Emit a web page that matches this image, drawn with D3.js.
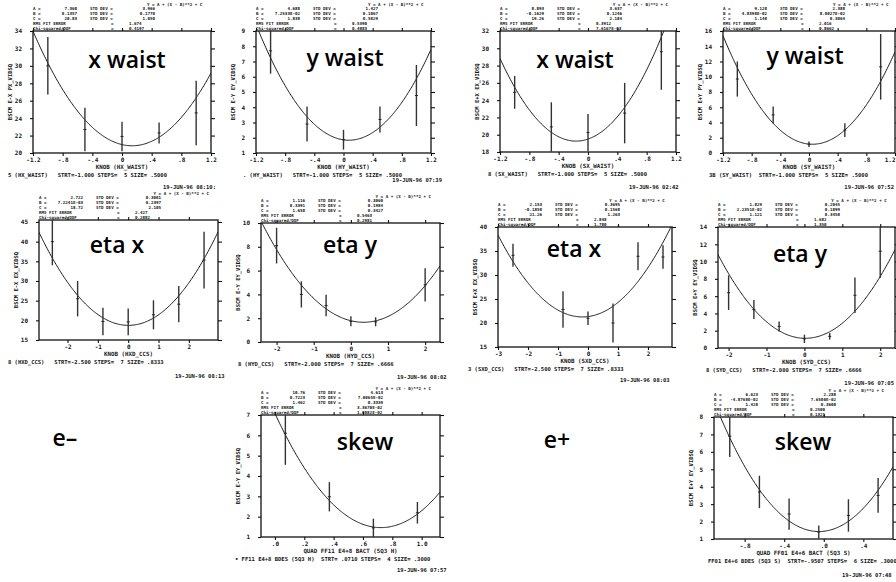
<!DOCTYPE html>
<html>
<head>
<meta charset="utf-8">
<script src="https://cdn.jsdelivr.net/npm/d3@7"></script>
<style>
  html, body { margin: 0; padding: 0; background: #fff; }
  svg { display: block; }
  .mono { font-family: "DejaVu Sans Mono", "Liberation Mono", monospace; font-weight: bold; fill: #151515; }
  .big { font-family: "Open Sans", "Noto Sans", sans-serif; font-weight: 600; fill: #000; }
</style>
</head>
<body>
<svg id="chart" width="896" height="582"></svg>
<script>
// ---- knob scans: knob setting, measured beam size squared, error ----
const hxWaistKnob = [-1, -0.5, 0, 0.5, 1];
const hxWaistSize = [30.0, 22.7, 21.9, 22.3, 24.6];
const hxWaistErr  = [3.3, 2.5, 1.7, 1.2, 3.7];

const hyWaistKnob = [-1, -0.5, 0, 0.5, 1];
const hyWaistSize = [7.7, 2.9, 1.87, 3.2, 4.77];
const hyWaistErr  = [1.5, 1.15, 0.65, 0.85, 2.0];

const sxWaistKnob = [-1, -0.5, 0, 0.5, 1];
const sxWaistSize = [24.9, 20.9, 20.25, 22.5, 29.6];
const sxWaistErr  = [1.9, 2.85, 2.15, 3.5, 4.4];

const syWaistKnob = [-1, -0.5, 0, 0.5, 1];
const syWaistSize = [9.7, 5.0, 1.15, 3.0, 11.3];
const syWaistErr  = [2.3, 1.1, 0.35, 0.9, 4.3];

const hxdKnob = [-2.5, -1.667, -0.833, 0, 0.833, 1.667, 2.5];
const hxdSize = [40.0, 25.5, 19.7, 19.6, 21.4, 24.1, 35.3];
const hxdErr  = [6.0, 4.5, 3.5, 3.4, 3.7, 4.6, 7.2];

const hydKnob = [-2, -1.333, -0.667, 0, 0.667, 2];
const hydSize = [8.1, 4.0, 3.07, 1.74, 1.7, 4.8];
const hydErr  = [1.5, 1.1, 0.9, 0.42, 0.38, 1.4];

const sxdKnob = [-2.5, -0.833, 0, 0.833, 1.667, 2.5];
const sxdSize = [34.1, 22.8, 21.0, 20.0, 33.9, 33.75];
const sxdErr  = [2.4, 3.8, 1.4, 4.05, 2.9, 2.45];

const sydKnob = [-2, -1.333, -0.667, 0, 0.667, 1.333, 2];
const sydSize = [6.4, 4.45, 2.5, 1.06, 1.35, 6.1, 11.2];
const sydErr  = [2.0, 1.1, 0.58, 0.48, 0.38, 2.05, 3.1];

const skewEmKnob = [0.071, 0.371, 0.671, 0.971];
const skewEmSize = [6.1, 2.98, 1.45, 2.19];
const skewEmErr  = [1.55, 0.72, 0.45, 0.53];

const skewEpKnob = [-0.9507, -0.6507, -0.3507, -0.0507, 0.2493, 0.5493];
const skewEpSize = [6.9, 3.7, 2.43, 1.4, 2.35, 3.5];
const skewEpErr  = [1.2, 0.93, 0.9, 0.38, 0.93, 1.0];

// ---- parabola fits  Y = A*(X - B)**2 + C  (one entry per panel) ----
const fitA = [7.368, 4.688, 8.893, 9.128, 2.722, 1.116, 2.153, 1.829, 10.76, 6.623];
const fitB = [0.1357, 7.2533e-2, -0.1629, 4.8398e-2, 7.2241e-3, 0.3391, -0.1858, 2.2351e-2, 0.7223, -4.8768e-2];
const fitC = [20.83, 1.838, 19.26, 1.148, 18.72, 1.658, 21.26, 1.121, 1.462, 1.428];
const fitALabel = ["7.368", "4.688", "8.893", "9.128", "2.722", "1.116", "2.153", "1.829", "10.76", "6.623"];
const fitBLabel = ["0.1357", "7.2533E-02", "-0.1629", "4.8398E-02", "7.2241E-03", "0.3391", "-0.1858", "2.2351E-02", "0.7223", "-4.8768E-02"];
const fitCLabel = ["20.83", "1.838", "19.26", "1.148", "18.72", "1.658", "21.26", "1.121", "1.462", "1.428"];
const sdA = ["3.966", "1.427", "3.637", "2.388", "0.3001", "0.3060", "0.3695", "0.2045", "4.613", "2.288"];
const sdB = ["0.1770", "0.1067", "0.1246", "8.0027E-02", "0.2397", "0.1984", "0.1568", "0.1899", "7.0065E-02", "7.6500E-02"];
const sdC = ["1.050", "0.5829", "2.184", "0.3064", "2.105", "0.3427", "1.263", "0.3458", "0.3339", "0.3600"];
const rmsErr = ["1.674", "0.5390", "0.3912", "2.016", "2.427", "0.5463", "2.848", "1.682", "3.3670E-02", "0.2500"];
const chiDof = ["0.4197", "0.4883", "7.6167E-03", "0.8662", "0.2882", "0.2981", "1.780", "1.350", "1.0082E-02", "0.1321"];

// ---- axis ticks ----
const waistTicks = [-1.2, -0.8, -0.4, 0, 0.4, 0.8, 1.2];
const waistTickLabels = ["-1.2", "-.8", "-.4", "0", ".4", ".8", "1.2"];
const ccsTicks = [-2, -1, 0, 1, 2];
const ccsTickLabels = ["-2", "-1", "0", "1", "2"];
const sxdTicks = [-3, -2, -1, 0, 1, 2];
const sxdTickLabels = ["-3", "-2", "-1", "0", "1", "2"];
const skewEmTicks = [0, 0.2, 0.4, 0.6, 0.8, 1.0];
const skewEmTickLabels = [".0", ".2", ".4", ".6", ".8", "1.0"];
const skewEpTicks = [-0.8, -0.4, 0, 0.4];
const skewEpTickLabels = ["-.8", "-.4", ".0", ".4"];

const yTicks1 = [20, 22, 24, 26, 28, 30, 32, 34];
const yTicks2 = [1, 2, 3, 4, 5, 6, 7, 8, 9];
const yTicks3 = [18, 20, 22, 24, 26, 28, 30, 32];
const yTicks4 = [0, 2, 4, 6, 8, 10, 12, 14, 16];
const yTicks5 = [15, 20, 25, 30, 35, 40, 45];
const yTicks6 = [0, 2, 4, 6, 8, 10];
const yTicks7 = [15, 20, 25, 30, 35, 40];
const yTicks8 = [0, 2, 4, 6, 8, 10, 12, 14];
const yTicks9 = [1, 2, 3, 4, 5, 6, 7];
const yTicks10 = [1, 2, 3, 4, 5, 6, 7, 8];

// ---- panel texts ----
const panelNames = ["x waist", "y waist", "x waist", "y waist", "eta x", "eta y", "eta x", "eta y", "skew", "skew"];
const yTitles = ["BSCM E-X PX_VIDSQ", "BSCM E-Y EY_VIDSQ", "BSCM E+X EX_VIDSQ", "BSCM E+Y PY_VIDSQ",
                 "BSCM E-X EX_VIDSQ", "BSCM E-Y EY_VIDSQ", "BSCM E+X EX_VIDSQ", "BSCM E+Y EY_VIDSQ",
                 "BSCM E-Y EY_VIDSQ", "BSCM E+Y EY_VIDSQ"];
const xTitles = ["KNOB (HX_WAIST)", "KNOB (HY_WAIST)", "KNOB (SX_WAIST)", "KNOB (SY_WAIST)",
                 "KNOB (HXD_CCS)", "KNOB (HYD_CCS)", "KNOB (SXD_CCS)", "KNOB (SYD_CCS)",
                 "QUAD FF11 E4+8 BACT (5Q3 H)", "QUAD FF01 E4+6 BACT (5Q3 S)"];
const scanLines = ["5 (HX_WAIST)   STRT=-1.000 STEPS=  5 SIZE= .5000",
                   ". (HY_WAIST)   STRT=-1.000 STEPS=  5 SIZE= .5000",
                   "8 (SX_WAIST)   STRT=-1.000 STEPS=  5 SIZE= .5000",
                   "3B (SY_WAIST)  STRT=-1.000 STEPS=  5 SIZE= .5000",
                   "8 (HXD_CCS)   STRT=-2.500 STEPS=  7 SIZE= .8333",
                   "8 (HYD_CCS)   STRT=-2.000 STEPS=  7 SIZE= .6666",
                   "3 (SXD_CCS)   STRT=-2.500 STEPS=  7 SIZE= .8333",
                   "8 (SYD_CCS)   STRT=-2.000 STEPS=  7 SIZE= .6666",
                   "\u2022 FF11 E4+8 BDES (5Q3 H)  STRT= .0710 STEPS=  4 SIZE= .3000",
                   "FF01 E4+6 BDES (5Q3 S)  STRT=-.9507 STEPS=  6 SIZE= .3000"];
const dateStamps = ["19-JUN-96 08:10:", "19-JUN-96 07:39", "19-JUN-96 02:42", "19-JUN-96 07:52",
                    "19-JUN-96 08:13", "19-JUN-96 08:02", "19-JUN-96 08:03", "19-JUN-96 07:05",
                    "19-JUN-96 07:57", "19-JUN-96 07:48"];
const beamLabels = ["e\u2013", "e+"];

// ---- layout (pixel geometry of each panel) ----
const layout = [
  { L: 33,  R: 211, T: 31,  B: 153, xd: [-1.2, 1.2],     yd: [20, 34],   lx: 127, ly: 68,  fx: 8,   dx: 216, dy: 189, da: "end" },
  { L: 256, R: 431, T: 31,  B: 153, xd: [-1.2, 1.2],     yd: [1, 9],     lx: 345, ly: 66,  fx: 243, dx: 442, dy: 182, da: "end" },
  { L: 500, R: 676, T: 31,  B: 152, xd: [-1.2, 1.2],     yd: [18, 32],   lx: 575, ly: 68,  fx: 488, dx: 629, dy: 189, da: "start" },
  { L: 723, R: 895, T: 31,  B: 153, xd: [-1.2, 1.2],     yd: [0, 16],    lx: 805, ly: 64,  fx: 709, dx: 894, dy: 189, da: "end" },
  { L: 39,  R: 218, T: 220, B: 340, xd: [-2.94, 2.96],   yd: [15, 45.5], lx: 117, ly: 253, fx: 8,   dx: 175, dy: 378, da: "start" },
  { L: 261, R: 440, T: 223, B: 342, xd: [-2.42, 2.4],    yd: [0, 10],    lx: 350, ly: 253, fx: 238, dx: 397, dy: 379, da: "start" },
  { L: 498, R: 672, T: 227, B: 347, xd: [-3, 2.8],       yd: [15, 40],   lx: 574, ly: 257, fx: 468, dx: 620, dy: 382, da: "start" },
  { L: 718, R: 895, T: 227, B: 348, xd: [-2.28, 2.39],   yd: [0, 14],    lx: 800, ly: 262, fx: 706, dx: 894, dy: 385, da: "end" },
  { L: 261, R: 440, T: 415, B: 537, xd: [-0.095, 1.125], yd: [1, 7],     lx: 365, ly: 450, fx: 235, dx: 397, dy: 572, da: "start" },
  { L: 714, R: 893, T: 417, B: 539, xd: [-1.11, 0.70],   yd: [1, 8],     lx: 803, ly: 450, fx: 708, dx: 842, dy: 577, da: "start" }
];
const scans = [
  [hxWaistKnob, hxWaistSize, hxWaistErr], [hyWaistKnob, hyWaistSize, hyWaistErr],
  [sxWaistKnob, sxWaistSize, sxWaistErr], [syWaistKnob, syWaistSize, syWaistErr],
  [hxdKnob, hxdSize, hxdErr], [hydKnob, hydSize, hydErr],
  [sxdKnob, sxdSize, sxdErr], [sydKnob, sydSize, sydErr],
  [skewEmKnob, skewEmSize, skewEmErr], [skewEpKnob, skewEpSize, skewEpErr]
];
const xTickSets = [
  [waistTicks, waistTickLabels], [waistTicks, waistTickLabels], [waistTicks, waistTickLabels], [waistTicks, waistTickLabels],
  [ccsTicks, ccsTickLabels], [ccsTicks, ccsTickLabels], [sxdTicks, sxdTickLabels], [ccsTicks, ccsTickLabels],
  [skewEmTicks, skewEmTickLabels], [skewEpTicks, skewEpTickLabels]
];
const yTickSets = [yTicks1, yTicks2, yTicks3, yTicks4, yTicks5, yTicks6, yTicks7, yTicks8, yTicks9, yTicks10];

const svg = d3.select("#chart");
svg.append("rect").attr("width", 896).attr("height", 582).attr("fill", "#fff");

function styleAxis(sel) {
  sel.select(".domain").remove();
  sel.selectAll("line").attr("stroke", "#111").attr("stroke-width", 1.1);
  sel.selectAll("text").attr("class", "mono").attr("font-size", 6).attr("font-family", null);
  sel.attr("font-family", null).attr("font-size", null);
}

function drawPanel(i) {
  const p = layout[i];
  const [knob, size, err] = scans[i];
  const [xt, xl] = xTickSets[i];
  const yt = yTickSets[i];
  const g = svg.append("g");

  const x = d3.scaleLinear().domain(p.xd).range([p.L, p.R]);
  const y = d3.scaleLinear().domain(p.yd).range([p.B, p.T]);

  const clipId = "clip" + i;
  g.append("clipPath").attr("id", clipId)
    .append("rect").attr("x", p.L).attr("y", p.T).attr("width", p.R - p.L).attr("height", p.B - p.T);

  // fit summary above the frame
  const W = p.R - p.L;
  const hdr = g.append("g").attr("class", "mono").attr("font-size", 4.2);
  const step = 4.8;
  hdr.append("text").attr("x", p.L + 0.64 * W).attr("y", p.T - 1.5 - 5 * step).text("Y = A + (X - B)**2 + C");
  const rows = [["A =", fitALabel[i], sdA[i]], ["B =", fitBLabel[i], sdB[i]], ["C =", fitCLabel[i], sdC[i]]];
  rows.forEach((r, k) => {
    const yy = p.T - 1.5 - (4 - k) * step;
    hdr.append("text").attr("x", p.L).attr("y", yy).text(r[0]);
    hdr.append("text").attr("x", p.L + 44).attr("y", yy).attr("text-anchor", "end").text(r[1]);
    hdr.append("text").attr("x", p.L + 57).attr("y", yy).text("STD DEV =");
    hdr.append("text").attr("x", p.L + 122).attr("y", yy).attr("text-anchor", "end").text(r[2]);
  });
  hdr.append("text").attr("x", p.L).attr("y", p.T - 1.5 - step).text("RMS FIT ERROR");
  hdr.append("text").attr("x", p.L + 78).attr("y", p.T - 1.5 - step).text("=");
  hdr.append("text").attr("x", p.L + 96).attr("y", p.T - 1.5 - step).text(rmsErr[i]);
  hdr.append("text").attr("x", p.L).attr("y", p.T - 1.5).text("Chi-squared/DOF");
  hdr.append("text").attr("x", p.L + 78).attr("y", p.T - 1.5).text("=");
  hdr.append("text").attr("x", p.L + 96).attr("y", p.T - 1.5).text(chiDof[i]);

  // frame
  g.append("rect").attr("x", p.L).attr("y", p.T).attr("width", W).attr("height", p.B - p.T)
    .attr("fill", "none").attr("stroke", "#111").attr("stroke-width", 1.3);

  // axes on all four sides
  const bottom = g.append("g").attr("transform", `translate(0,${p.B})`)
    .call(d3.axisBottom(x).tickValues(xt).tickFormat((d, k) => xl[k]).tickSize(3).tickPadding(2).tickSizeOuter(0))
    .call(styleAxis);
  // keep a label that would run past the page edge inside it
  bottom.selectAll(".tick").each(function (d) {
    const t = d3.select(this).select("text");
    const half = t.node().getComputedTextLength() / 2;
    if (x(d) + half > 895) t.attr("text-anchor", "end").attr("x", 895 - x(d));
  });
  g.append("g").attr("transform", `translate(0,${p.T})`)
    .call(d3.axisTop(x).tickValues(xt).tickFormat("").tickSize(3).tickSizeOuter(0))
    .call(styleAxis);
  g.append("g").attr("transform", `translate(${p.L},0)`)
    .call(d3.axisLeft(y).tickValues(yt).tickFormat(d3.format("d")).tickSize(3).tickPadding(8).tickSizeOuter(0))
    .call(styleAxis);
  g.append("g").attr("transform", `translate(${p.R},0)`)
    .call(d3.axisRight(y).tickValues(yt).tickFormat("").tickSize(4).tickSizeOuter(0))
    .call(styleAxis);

  // fitted parabola from the printed parameters
  const xs = d3.range(0, 201).map(k => p.xd[0] + (p.xd[1] - p.xd[0]) * k / 200);
  const fit = xv => fitA[i] * (xv - fitB[i]) ** 2 + fitC[i];
  g.append("path").attr("clip-path", `url(#${clipId})`)
    .datum(xs)
    .attr("fill", "none").attr("stroke", "#1a1a1a").attr("stroke-width", 1)
    .attr("d", d3.line().x(d => x(d)).y(d => y(fit(d))));

  // measured points with error bars
  const pts = knob.map((k, j) => ({ k, s: size[j], e: err[j] }));
  const eb = g.append("g").attr("clip-path", `url(#${clipId})`);
  eb.selectAll("line.bar").data(pts).join("line").attr("class", "bar")
    .attr("x1", d => x(d.k)).attr("x2", d => x(d.k))
    .attr("y1", d => y(d.s - d.e)).attr("y2", d => y(d.s + d.e))
    .attr("stroke", "#333").attr("stroke-width", 1.4);
  eb.selectAll("line.pt").data(pts).join("line").attr("class", "pt")
    .attr("x1", d => x(d.k) - 1.5).attr("x2", d => x(d.k) + 1.5)
    .attr("y1", d => y(d.s)).attr("y2", d => y(d.s))
    .attr("stroke", "#222").attr("stroke-width", 1);

  // axis titles and scan description
  g.append("text").attr("class", "mono").attr("font-size", 5.5)
    .attr("transform", `translate(${p.L - 21},${(p.T + p.B) / 2}) rotate(-90)`)
    .attr("text-anchor", "middle").text(yTitles[i]);
  g.append("text").attr("class", "mono").attr("font-size", 5.8)
    .attr("x", (p.L + p.R) / 2).attr("y", p.B + 16).attr("text-anchor", "middle").text(xTitles[i]);
  g.append("text").attr("class", "mono").attr("font-size", 5.5).attr("xml:space", "preserve")
    .style("white-space", "pre")
    .attr("x", p.fx).attr("y", p.B + 24).text(scanLines[i]);
  g.append("text").attr("class", "mono").attr("font-size", 5.5)
    .attr("x", p.dx).attr("y", p.dy).attr("text-anchor", p.da).text(dateStamps[i]);

  // panel name
  g.append("text").attr("class", "big").attr("font-size", 23)
    .attr("x", p.lx).attr("y", p.ly).attr("text-anchor", "middle").text(panelNames[i]);
}

layout.forEach((p, i) => drawPanel(i));

// beam labels
svg.append("text").attr("class", "big").attr("font-size", 23).attr("x", 65).attr("y", 446)
  .attr("text-anchor", "middle").text(beamLabels[0]);
svg.append("text").attr("class", "big").attr("font-size", 23).attr("x", 557).attr("y", 448)
  .attr("text-anchor", "middle").text(beamLabels[1]);
</script>
</body>
</html>
